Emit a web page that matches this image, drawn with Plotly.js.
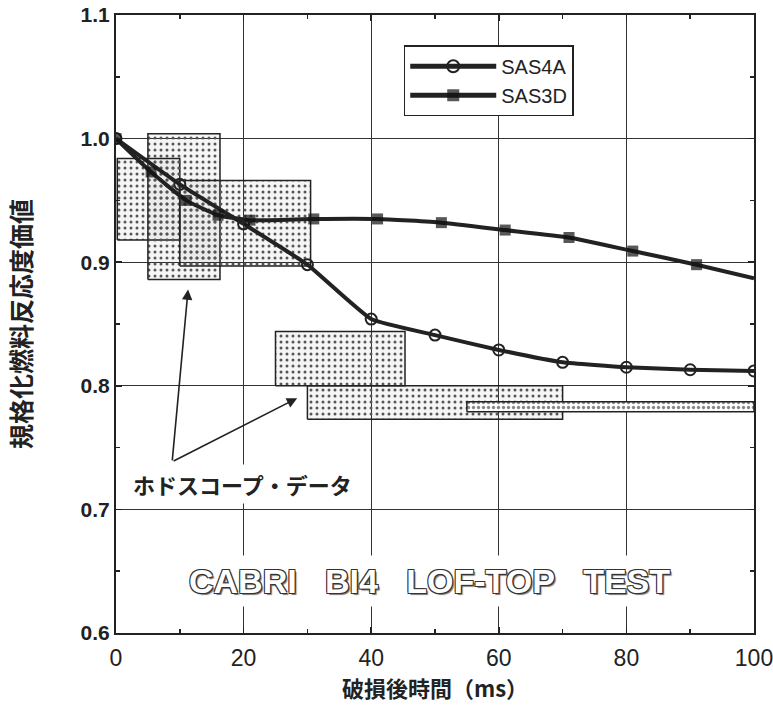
<!DOCTYPE html>
<html>
<head>
<meta charset="utf-8">
<script src="https://cdn.plot.ly/plotly-3.0.1.min.js"></script>
<style>
  html, body { margin: 0; padding: 0; background: #ffffff; }
  #chart { width: 773px; height: 713px; }
</style>
</head>
<body>
<div id="chart"></div>
<script>
// ---- Data ----
const sas4aX = [0, 10, 20, 30, 40, 50, 60, 70, 80, 90, 100];
const sas4aY = [1.000, 0.963, 0.931, 0.898, 0.854, 0.841, 0.829, 0.819, 0.815, 0.813, 0.812];

const sas3dX = [0, 5.5, 11, 16, 21, 31, 41, 51, 61, 71, 81, 91, 100];
const sas3dY = [1.000, 0.973, 0.950, 0.938, 0.934, 0.935, 0.935, 0.932, 0.926, 0.920, 0.909, 0.898, 0.887];

// Hodoscope data boxes (time range x ms, value range y)
const boxX0 = [0.2, 5.0, 10.0, 25.0, 30.0, 55.0];
const boxX1 = [10.0, 16.3, 30.5, 45.3, 70.0, 100.0];
const boxY0 = [0.918, 0.886, 0.897, 0.800, 0.773, 0.779];
const boxY1 = [0.984, 1.004, 0.966, 0.844, 0.800, 0.787];

const xTickVals = [0, 20, 40, 60, 80, 100];
const yTickVals = [0.6, 0.7, 0.8, 0.9, 1.0, 1.1];

const seriesNames = ['SAS4A', 'SAS3D'];
const yTitle = '規格化燃料反応度価値';
const xTitle = '破損後時間（ms）';
const noteText = 'ホドスコープ・データ';
const testWords = ['CABRI', 'BI4', 'LOF-TOP', 'TEST'];

// ---- Build traces ----
const ink = '#222222';
const traces = [];

for (let i = 0; i < boxX0.length; i++) {
  const last = i === boxX0.length - 1;
  traces.push({
    type: 'scatter',
    mode: 'lines',
    x: [boxX0[i], boxX1[i], boxX1[i], boxX0[i], boxX0[i]],
    y: [boxY0[i], boxY0[i], boxY1[i], boxY1[i], boxY0[i]],
    fill: 'toself',
    fillcolor: last ? 'rgba(255,255,255,1)' : 'rgba(0,0,0,0)',
    fillpattern: last
      ? { shape: '.', size: 5, solidity: 0.35, fgcolor: '#888', bgcolor: '#ffffff' }
      : { shape: '.', size: 6, solidity: 0.2, fgcolor: '#555', bgcolor: 'rgba(0,0,0,0.04)' },
    line: { color: ink, width: 1.5 },
    showlegend: false,
    hoverinfo: 'skip'
  });
}

traces.push({
  type: 'scatter',
  mode: 'lines+markers',
  name: seriesNames[0],
  x: sas4aX,
  y: sas4aY,
  line: { color: ink, width: 4, shape: 'spline', smoothing: 0.4 },
  marker: { symbol: 'circle-open', size: 11, color: ink, line: { width: 2, color: ink } }
});

traces.push({
  type: 'scatter',
  mode: 'lines+markers',
  name: seriesNames[1],
  x: sas3dX,
  y: sas3dY,
  line: { color: ink, width: 4, shape: 'spline', smoothing: 0.4 },
  marker: {
    symbol: 'square',
    size: sas3dX.map((v, i) => (i === sas3dX.length - 1 ? 0 : 11)),
    color: '#111111',
    line: { width: 0 }
  }
});

const sp = '\u00a0\u00a0\u00a0';

const layout = {
  width: 773,
  height: 713,
  margin: { l: 116, r: 19, t: 15, b: 80 },
  paper_bgcolor: '#ffffff',
  plot_bgcolor: '#ffffff',
  showlegend: true,
  legend: {
    x: 0.451, y: 0.951, xanchor: 'left', yanchor: 'top',
    bgcolor: '#ffffff', bordercolor: ink, borderwidth: 1.5,
    font: { family: 'Liberation Sans, Arial, sans-serif', size: 20, color: ink },
    itemwidth: 86,
    itemsizing: 'constant',
    tracegroupgap: 2
  },
  xaxis: {
    range: [0, 100],
    tickmode: 'array', tickvals: xTickVals,
    ticks: 'inside', ticklen: 6, tickwidth: 1.5, tickcolor: ink,
    showline: true, linecolor: ink, linewidth: 2, mirror: 'allticks',
    showgrid: true, gridcolor: '#333', gridwidth: 1,
    zeroline: false,
    minor: { dtick: 10, tick0: 0, ticks: 'inside', ticklen: 4, tickcolor: ink, showgrid: false },
    tickfont: { family: 'Liberation Sans, Arial, sans-serif', size: 23, color: ink },
    ticklabeloverflow: 'allow',
    ticklabelstandoff: 3,
    title: {
      text: xTitle,
      font: { family: 'Noto Sans CJK JP, sans-serif', size: 22, color: ink, weight: 'bold' },
      standoff: 8
    }
  },
  yaxis: {
    range: [0.6, 1.1],
    tickmode: 'array', tickvals: yTickVals,
    tickformat: '.1f',
    ticks: 'inside', ticklen: 6, tickwidth: 1.5, tickcolor: ink,
    showline: true, linecolor: ink, linewidth: 2, mirror: 'allticks',
    showgrid: true, gridcolor: '#333', gridwidth: 1,
    zeroline: false,
    minor: { dtick: 0.05, tick0: 0.6, ticks: 'inside', ticklen: 4, tickcolor: ink, showgrid: false },
    tickfont: { family: 'Liberation Sans, Arial, sans-serif', size: 21, color: ink, weight: 'bold' },
    title: {
      text: yTitle,
      font: { family: 'Noto Sans CJK JP, sans-serif', size: 25, color: ink, weight: 'bold' },
      standoff: 42
    }
  },
  annotations: [
    {
      x: 11.3, y: 0.878, ax: 8.8, ay: 0.7385, axref: 'x', ayref: 'y', xref: 'x', yref: 'y',
      text: '', showarrow: true, arrowhead: 2, arrowsize: 1.3, arrowwidth: 1.6, arrowcolor: ink
    },
    {
      x: 28.4, y: 0.790, ax: 8.8, ay: 0.7385, axref: 'x', ayref: 'y', xref: 'x', yref: 'y',
      text: '', showarrow: true, arrowhead: 2, arrowsize: 1.3, arrowwidth: 1.6, arrowcolor: ink
    },
    {
      x: 19.8, y: 0.7205, xref: 'x', yref: 'y', showarrow: false,
      text: noteText, bgcolor: '#ffffff', borderpad: 3,
      font: { family: 'Noto Sans CJK JP, sans-serif', size: 22, color: ink, weight: 'bold' }
    },
    {
      x: 49.2, y: 0.642, xref: 'x', yref: 'y', showarrow: false,
      text: testWords.join(sp), bgcolor: '#ffffff', borderpad: 6,
      font: {
        family: 'Liberation Sans, Arial, sans-serif', size: 34, color: '#ffffff', weight: 'bold',
        shadow: '1px 1px 0 #333, -1px -1px 0 #333, 1px -1px 0 #333, -1px 1px 0 #333, 2px 2px 1px #777'
      }
    }
  ]
};

Plotly.newPlot('chart', traces, layout, { displayModeBar: false, staticPlot: true });
</script>
</body>
</html>
